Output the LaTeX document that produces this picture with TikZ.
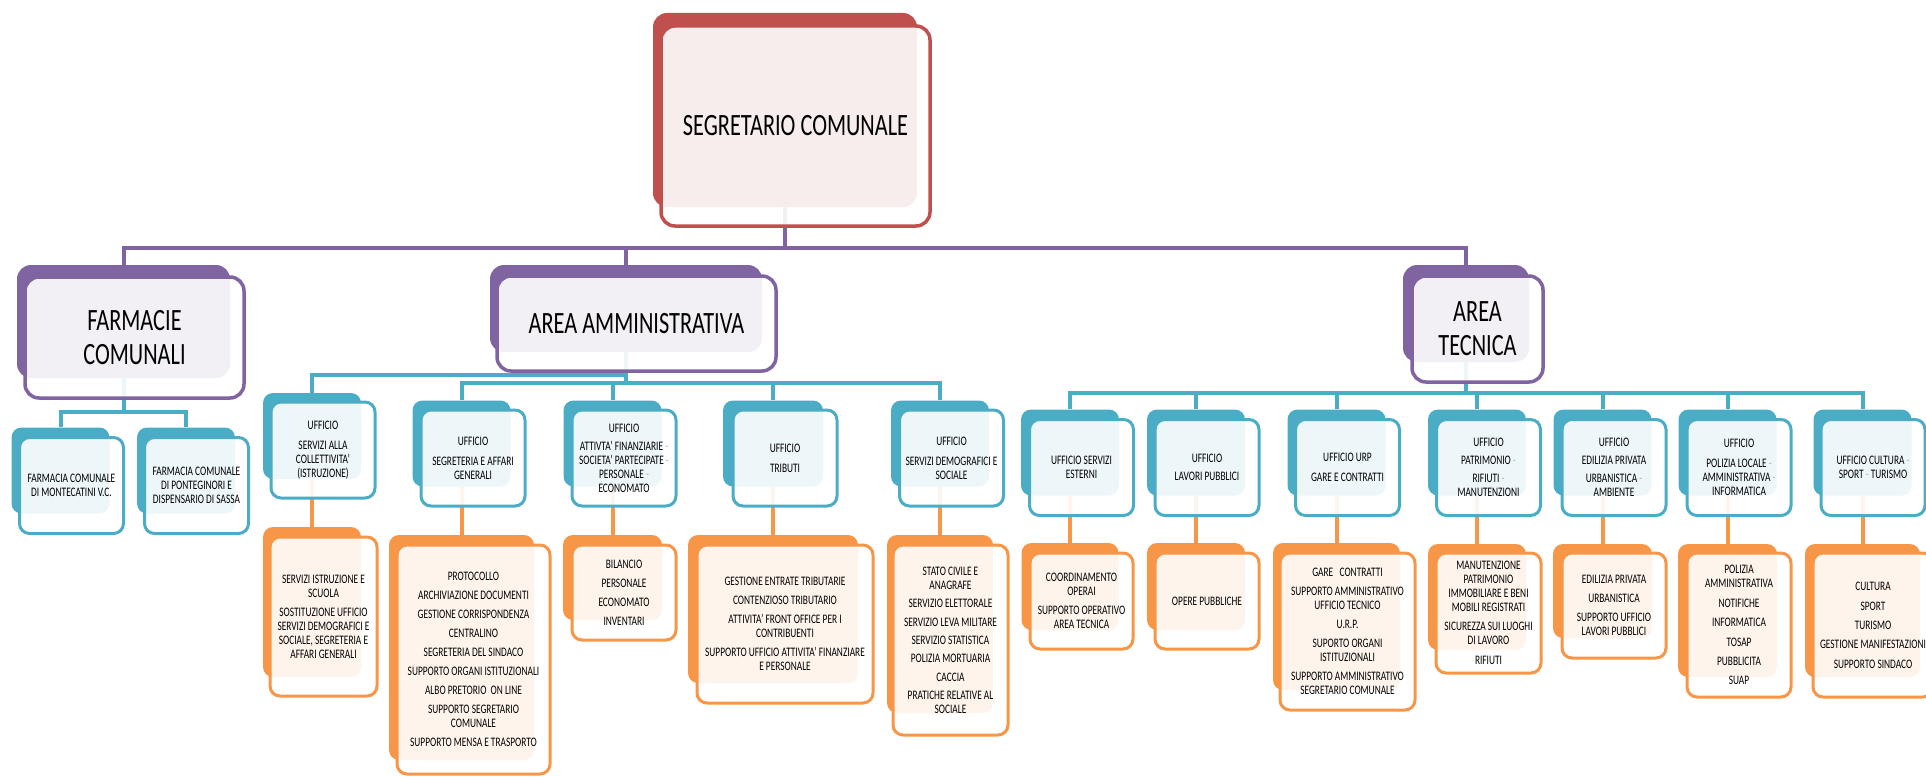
\documentclass[tikz,border=0pt]{standalone}
\usepackage{fontspec}
\setmainfont{Carlito}[FakeStretch=0.72]
\usetikzlibrary{backgrounds}

\definecolor{segred}{HTML}{C0504D}
\definecolor{areaviolet}{HTML}{8064A2}
\definecolor{uffteal}{HTML}{4BACC6}
\definecolor{taskorange}{HTML}{F79646}
\newcommand{\lightdash}{~\textcolor{black!30}{-}}

\begin{document}
\begin{tikzpicture}[x=1pt,y=-1pt,
  backbox/.style={fill=#1, rounded corners=10pt, inner sep=0pt},
  frontbox/.style={draw=#1, line width=3pt, fill=white, fill opacity=0.9, text opacity=1,
    rounded corners=10pt, inner sep=0pt, align=center, text=black,
    font=\fontsize{13}{14}\selectfont},
  bigbox/.style={line width=3.5pt, rounded corners=14pt, font=\fontsize{31}{34}\selectfont},
  tback/.style={backbox=uffteal, minimum width=98pt, minimum height=86pt},
  tfront/.style={frontbox=uffteal, minimum width=104pt, minimum height=96pt},
  busline/.style={draw=#1, line width=4pt}]
\useasboundingbox (0,0) rectangle (1926,776);

% top level
\node[backbox=segred, rounded corners=14pt, minimum width=264pt, minimum height=194pt] (seg) at (785,110) {};
\node[frontbox=segred, bigbox, minimum width=269pt, minimum height=200pt] (seg-f) at (795.5,126) {SEGRETARIO COMUNALE};

\node[backbox=areaviolet, rounded corners=14pt, minimum width=213pt, minimum height=113pt] (farm) at (123.5,321.5) {};
\node[frontbox=areaviolet, bigbox, minimum width=219pt, minimum height=121pt] (farm-f) at (134.5,337.5) {FARMACIE\\COMUNALI};
\node[backbox=areaviolet, rounded corners=14pt, minimum width=272pt, minimum height=87pt] (amm) at (626,308.5) {};
\node[frontbox=areaviolet, bigbox, minimum width=279pt, minimum height=95pt] (amm-f) at (636.5,323.5) {AREA AMMINISTRATIVA};
\node[backbox=areaviolet, rounded corners=14pt, minimum width=126pt, minimum height=97pt] (tec) at (1466,313.5) {};
\node[frontbox=areaviolet, bigbox, minimum width=131pt, minimum height=106pt] (tec-f) at (1477.5,329) {AREA\\TECNICA};

% farmacie
\node[tback] (fmont) at (60.5,470.5) {};
\node[tfront] (fmont-f) at (71.5,485.5) {FARMACIA COMUNALE\\DI MONTECATINI V.C.};
\node[tback] (fpont) at (186,470.5) {};
\node[tfront] (fpont-f) at (196.5,485.5) {FARMACIA COMUNALE\\DI PONTEGINORI E\\DISPENSARIO DI SASSA};

% area amministrativa: uffici
\node[tback] (ucoll) at (312,436) {};
\node[tfront] (ucoll-f) at (323,450) {UFFICIO\\[6pt]SERVIZI ALLA\\COLLETTIVITA'\\(ISTRUZIONE)};
\node[tback] (useg) at (461.5,443.5) {};
\node[tfront] (useg-f) at (473,458) {UFFICIO\\[6pt]SEGRETERIA E AFFARI\\GENERALI};
\node[tback] (ufin) at (612.5,443.5) {};
\node[tfront] (ufin-f) at (624,458) {UFFICIO\\[4pt]ATTIVTA' FINANZIARIE\lightdash\\SOCIETA' PARTECIPATE\lightdash\\PERSONALE\lightdash\\ECONOMATO};
\node[tback, minimum width=100pt] (utrib) at (773,443.5) {};
\node[tfront] (utrib-f) at (785,458) {UFFICIO\\[6pt]TRIBUTI};
\node[tback] (udemo) at (940,443.5) {};
\node[tfront] (udemo-f) at (951.5,458) {UFFICIO\\[6pt]SERVIZI DEMOGRAFICI E\\SOCIALE};

% area amministrativa: compiti
\node[backbox=taskorange, minimum width=98pt, minimum height=150pt] (ocoll) at (312,602) {};
\node[frontbox=taskorange, minimum width=107pt, minimum height=159pt] (ocoll-f) at (323.5,616.5) {SERVIZI ISTRUZIONE E\\SCUOLA\\[5pt]SOSTITUZIONE UFFICIO\\SERVIZI DEMOGRAFICI E\\SOCIALE, SEGRETERIA E\\AFFARI GENERALI};
\node[backbox=taskorange, minimum width=145pt, minimum height=225pt] (oseg) at (461.5,647.5) {};
\node[frontbox=taskorange, minimum width=153pt, minimum height=229pt] (oseg-f) at (473.5,659.5) {PROTOCOLLO\\[5pt]ARCHIVIAZIONE DOCUMENTI\\[5pt]GESTIONE CORRISPONDENZA\\[5pt]CENTRALINO\\[5pt]SEGRETERIA DEL SINDACO\\[5pt]SUPPORTO ORGANI ISTITUZIONALI\\[5pt]ALBO PRETORIO~~ON LINE\\[5pt]SUPPORTO SEGRETARIO\\COMUNALE\\[5pt]SUPPORTO MENSA E TRASPORTO};
\node[backbox=taskorange, minimum width=99pt, minimum height=85pt] (ofin) at (612.5,577.5) {};
\node[frontbox=taskorange, minimum width=104pt, minimum height=95pt] (ofin-f) at (624,592.5) {BILANCIO\\[5pt]PERSONALE\\[5pt]ECONOMATO\\[5pt]INVENTARI};
\node[backbox=taskorange, minimum width=170pt, minimum height=148pt] (otrib) at (773,609) {};
\node[frontbox=taskorange, minimum width=176pt, minimum height=158pt] (otrib-f) at (785,624) {GESTIONE ENTRATE TRIBUTARIE\\[5pt]CONTENZIOSO TRIBUTARIO\\[5pt]ATTIVITA' FRONT OFFICE PER I\\CONTRIBUENTI\\[5pt]SUPPORTO UFFICIO ATTIVITA' FINANZIARE\\E PERSONALE};
\node[backbox=taskorange, minimum width=106pt, minimum height=178pt] (odemo) at (940,624) {};
\node[frontbox=taskorange, minimum width=115pt, minimum height=190pt] (odemo-f) at (950.5,640) {STATO CIVILE E\\ANAGRAFE\\[4pt]SERVIZIO ELETTORALE\\[5pt]SERVIZIO LEVA MILITARE\\[4pt]SERVIZIO STATISTICA\\[4pt]POLIZIA MORTUARIA\\[5pt]CACCIA\\[4pt]PRATICHE RELATIVE AL\\SOCIALE};

% area tecnica: uffici
\node[tback] (uest) at (1070,452.5) {};
\node[tfront] (uest-f) at (1081.5,467.5) {UFFICIO SERVIZI\\ESTERNI};
\node[tback] (ulav) at (1196,452.5) {};
\node[tfront] (ulav-f) at (1207,467.5) {UFFICIO\\[4pt]LAVORI PUBBLICI};
\node[tback] (uurp) at (1336.5,452.5) {};
\node[tfront] (uurp-f) at (1347.5,467.5) {UFFICIO URP\\[6pt]GARE E CONTRATTI};
\node[tback] (upat) at (1477,452.5) {};
\node[tfront] (upat-f) at (1488.5,467.5) {UFFICIO\\[4pt]PATRIMONIO\lightdash\\[4pt]RIFIUTI\lightdash\\MANUTENZIONI};
\node[tback] (uedi) at (1602.5,452.5) {};
\node[tfront] (uedi-f) at (1614,467.5) {UFFICIO\\[4pt]EDILIZIA PRIVATA\\[4pt]URBANISTICA\lightdash\\AMBIENTE};
\node[tback] (upol) at (1727.5,452.5) {};
\node[tfront] (upol-f) at (1739,467.5) {UFFICIO\\[6pt]POLIZIA LOCALE\lightdash\\AMMINISTRATIVA\lightdash\\INFORMATICA};
\node[tback] (ucul) at (1862.5,452.5) {};
\node[tfront] (ucul-f) at (1873,467.5) {UFFICIO CULTURA\lightdash\\SPORT\lightdash~TURISMO};

% area tecnica: compiti
\node[backbox=taskorange, minimum width=97pt, minimum height=87pt] (oest) at (1070,586.5) {};
\node[frontbox=taskorange, minimum width=103pt, minimum height=96pt] (oest-f) at (1081.5,601) {COORDINAMENTO\\OPERAI\\[5pt]SUPPORTO OPERATIVO\\AREA TECNICA};
\node[backbox=taskorange, minimum width=98pt, minimum height=87pt] (olav) at (1196,586.5) {};
\node[frontbox=taskorange, minimum width=104pt, minimum height=96pt] (olav-f) at (1207,601) {OPERE PUBBLICHE};
\node[backbox=taskorange, minimum width=127pt, minimum height=147pt] (ourp) at (1336.5,616.5) {};
\node[frontbox=taskorange, minimum width=135pt, minimum height=157pt] (ourp-f) at (1347.5,631.5) {GARE~~~CONTRATTI\\[5pt]SUPPORTO AMMINISTRATIVO\\UFFICIO TECNICO\\[5pt]U.R.P.\\[5pt]SUPORTO ORGANI\\ISTITUZIONALI\\[5pt]SUPPORTO AMMINISTRATIVO\\SEGRETARIO COMUNALE};
\node[backbox=taskorange, minimum width=98pt, minimum height=106pt] (opat) at (1477,597) {};
\node[frontbox=taskorange, minimum width=105pt, minimum height=120pt] (opat-f) at (1488.5,613) {MANUTENZIONE\\PATRIMONIO\\IMMOBILIARE E BENI\\MOBILI REGISTRATI\\[5pt]SICUREZZA SUI LUOGHI\\DI LAVORO\\[6pt]RIFIUTI};
\node[backbox=taskorange, minimum width=99pt, minimum height=94pt] (oedi) at (1602.5,591) {};
\node[frontbox=taskorange, minimum width=104pt, minimum height=105pt] (oedi-f) at (1614,605.5) {EDILIZIA PRIVATA\\[5pt]URBANISTICA\\[5pt]SUPPORTO UFFICIO\\LAVORI PUBBLICI};
\node[backbox=taskorange, minimum width=99pt, minimum height=133pt] (opol) at (1727.5,610.5) {};
\node[frontbox=taskorange, minimum width=104pt, minimum height=144pt] (opol-f) at (1739,625) {POLIZIA\\AMMINISTRATIVA\\[6pt]NOTIFICHE\\[5pt]INFORMATICA\\[6pt]TOSAP\\[5pt]PUBBLICITA\\[5pt]SUAP};
\node[backbox=taskorange, minimum width=115pt, minimum height=133pt] (ocul) at (1862.5,610.5) {};
\node[frontbox=taskorange, minimum width=120pt, minimum height=144pt] (ocul-f) at (1873,625) {CULTURA\\[6pt]SPORT\\[5pt]TURISMO\\[5pt]GESTIONE MANIFESTAZIONI\\[6pt]SUPPORTO SINDACO};

% connectors, under the boxes
\begin{scope}[on background layer]
\coordinate (mainbus) at (0,248);
\coordinate (farmbus) at (0,412);
\coordinate (collbus) at (0,375);
\coordinate (ammbus) at (0,383);
\coordinate (tecbus) at (0,393);
\draw[busline=areaviolet] (seg.south) -- (seg.south |- mainbus);
\draw[busline=areaviolet] (farm.north) -- (farm.north |- mainbus) -| (tec.north);
\draw[busline=areaviolet] (amm.north) -- (amm.north |- mainbus);

\draw[busline=uffteal] (farm.south) -- (farm.south |- farmbus);
\draw[busline=uffteal] (fmont.north) -- (fmont.north |- farmbus) -| (fpont.north);

\draw[busline=uffteal] (amm.south) -- (amm.south |- ammbus);
\draw[busline=uffteal] (ucoll.north) -- (ucoll.north |- collbus) -- (amm.south |- collbus);
\draw[busline=uffteal] (useg.north) -- (useg.north |- ammbus) -| (udemo.north);
\foreach \u in {ufin,utrib}
  \draw[busline=uffteal] (\u.north) -- (\u.north |- ammbus);

\draw[busline=uffteal] (tec.south) -- (tec.south |- tecbus);
\draw[busline=uffteal] (uest.north) -- (uest.north |- tecbus) -| (ucul.north);
\foreach \u in {ulav,uurp,upat,uedi,upol}
  \draw[busline=uffteal] (\u.north) -- (\u.north |- tecbus);

\foreach \u/\o in {ucoll/ocoll,useg/oseg,ufin/ofin,utrib/otrib,udemo/odemo,uest/oest,ulav/olav,uurp/ourp,upat/opat,uedi/oedi,upol/opol,ucul/ocul}
  \draw[busline=taskorange] (\u.south) -- (\o.north);
\end{scope}
\end{tikzpicture}
\end{document}
